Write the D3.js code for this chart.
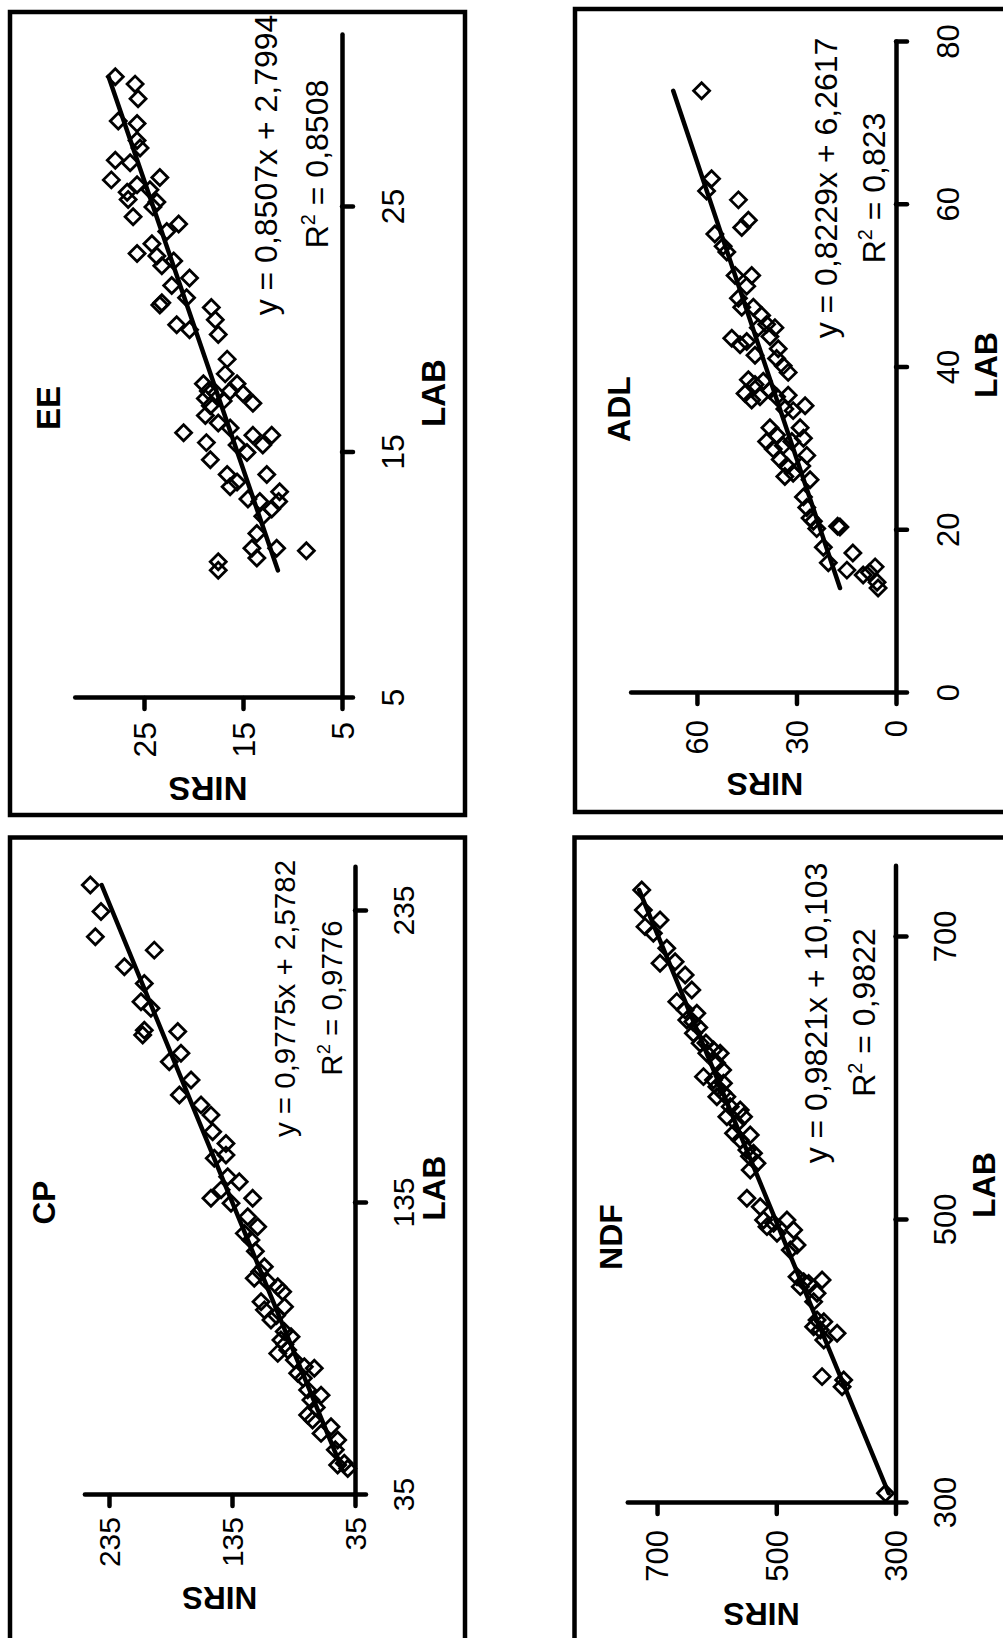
<!DOCTYPE html>
<html lang="en">
<head>
<meta charset="UTF-8">
<title>NIRS vs LAB calibration</title>
<script src="https://cdnjs.cloudflare.com/ajax/libs/d3/7.8.5/d3.min.js"></script>
<style>
  body { margin: 0; background: #fff; }
  svg { display: block; font-family: "Liberation Sans", Arial, sans-serif; }
</style>
</head>
<body>
<svg id="chart" width="1003" height="1638"></svg>
<script>
// ---- data (LAB reference value, NIRS prediction) ----
const eeLab  = [30.3, 30.0, 29.4, 28.5, 28.4, 27.7, 27.4, 26.9, 26.8, 26.1, 26.2, 25.9, 25.6, 25.7, 25.3, 24.6, 25.2, 25.0, 24.3, 24.0,
                23.1, 23.5, 23.0, 22.6, 22.8, 22.1, 21.8, 21.1, 21.0, 21.3, 20.9, 20.4, 20.2, 20.0, 19.8, 18.8, 18.2, 17.8, 17.5, 17.2,
                17.4, 17.5, 17.8, 17.4, 17.0, 17.1, 16.9, 16.5, 15.8, 16.2, 16.0, 15.4, 14.7, 15.3, 15.0, 15.7, 15.7, 15.3, 14.1, 13.6,
                13.8, 14.1, 13.1, 13.0, 12.7, 13.0, 13.4, 12.4, 11.7, 11.1, 10.7, 11.1, 11.0, 10.55, 10.2];
const eeNirs = [27.9, 25.9, 25.6, 27.6, 25.7, 25.7, 25.4, 27.9, 26.4, 28.3, 23.4, 25.7, 26.7, 24.4, 26.6, 26.1, 23.7, 24.1, 21.5, 22.7,
                25.7, 24.2, 23.7, 23.2, 22.0, 20.4, 22.2, 23.2, 23.4, 20.7, 18.2, 17.8, 21.7, 20.4, 17.5, 16.6, 16.8, 19.0, 18.5, 18.8,
                17.7, 16.3, 15.6, 15.0, 14.0, 17.0, 18.3, 18.8, 21.0, 17.5, 16.3, 18.7, 18.3, 15.6, 14.6, 14.0, 12.1, 13.0, 16.6, 16.3,
                15.6, 12.6, 14.5, 13.3, 12.1, 11.4, 11.3, 13.0, 13.6, 14.1, 13.6, 11.6, 8.6, 17.5, 17.5];

const cpLab  = [243.9, 234.8, 226.2, 221.6, 215.9, 210.2, 203.9, 201.7, 194.2, 192.5, 193.7, 183.4, 186.3, 177.1, 172.0, 168.6, 165.1,
                159.4, 155.4, 150.3, 151.4, 144.0, 142.3, 136.6, 136.6, 139.5, 134.9, 130.3, 126.9, 124.6, 122.3, 113.2, 109.2, 108.0,
                106.3, 104.6, 101.2, 98.4, 99.5, 94.9, 88.1, 89.2, 83.5, 84.7, 81.2, 78.9, 78.4, 76.7, 71.0, 69.2, 67.5, 62.4, 60.7,
                56.1, 58.4, 53.8, 45.9, 45.3, 44.1, 118.5, 111.5, 96.5, 91.0, 86.5, 75.0, 65.0, 50.5];
const cpNirs = [250.2, 241.5, 246.1, 198.2, 222.5, 206.3, 209.0, 200.9, 206.3, 207.6, 179.1, 186.0, 176.5, 168.3, 177.8, 160.2, 152.1,
                150.7, 139.9, 149.4, 139.9, 138.5, 129.1, 118.2, 152.1, 143.9, 135.8, 122.2, 114.1, 125.0, 119.6, 108.7, 116.9, 106.0,
                97.8, 93.8, 111.4, 108.7, 92.3, 103.3, 95.2, 87.0, 97.8, 89.7, 84.3, 76.2, 68.1, 81.6, 73.5, 62.6, 70.8, 73.5, 69.5,
                62.6, 54.5, 49.1, 43.7, 49.1, 40.9, 116.0, 112.5, 98.8, 92.5, 92.0, 77.0, 66.5, 51.0];

const adlLab  = [74.0, 63.2, 61.7, 60.6, 57.2, 58.1, 56.4, 54.9, 54.2, 51.3, 51.3, 50.0, 48.5, 47.4, 47.4, 46.4, 45.3, 44.9, 43.6, 42.8,
                 43.2, 44.9, 43.8, 42.3, 41.5, 41.1, 40.2, 38.5, 37.9, 38.3, 39.4, 36.8, 36.0, 36.4, 37.2, 36.4, 36.6, 34.9, 34.7, 35.3,
                 32.6, 31.7, 30.9, 30.0, 30.4, 30.9, 32.6, 31.3, 28.7, 27.9, 26.6, 27.0, 27.9, 29.2, 26.2, 24.1, 22.8, 21.5, 21.1, 20.2,
                 20.4, 20.5, 17.9, 16.0, 17.2, 15.1, 14.5, 15.5, 13.6, 12.9, 14.8];
const adlNirs = [58.6, 55.6, 57.1, 47.5, 46.5, 44.5, 54.6, 52.1, 51.0, 48.5, 43.5, 45.0, 47.5, 46.5, 43.0, 40.5, 39.0, 41.5, 49.5, 47.0,
                 45.0, 36.5, 38.0, 35.5, 42.5, 36.0, 34.0, 44.5, 42.5, 40.0, 32.5, 45.5, 43.5, 41.0, 38.0, 36.0, 32.5, 33.5, 31.0, 27.4,
                 38.0, 36.0, 39.0, 37.0, 34.0, 31.4, 28.9, 27.9, 34.9, 32.9, 33.5, 31.0, 28.4, 26.9, 25.9, 27.9, 26.9, 25.9, 24.9, 23.9,
                 16.9, 17.6, 21.9, 20.4, 13.0, 14.8, 9.9, 6.3, 5.7, 5.4, 8.0];

const ndfLab  = [733.2, 719.1, 712.0, 707.3, 702.6, 692.0, 681.4, 682.5, 673.1, 662.5, 654.3, 648.4, 646.1, 641.3, 631.9, 624.9, 620.1,
                 617.8, 617.8, 601.3, 598.9, 594.2, 596.6, 587.1, 587.1, 580.1, 577.7, 573.0, 573.0, 561.3, 556.6, 560.1, 549.5, 547.2,
                 540.1, 535.3, 515.3, 509.4, 500.0, 497.6, 500.0, 492.9, 490.6, 495.3, 482.3, 478.8, 459.9, 456.4, 455.2, 457.6, 452.9,
                 448.2, 442.3, 429.3, 428.1, 424.6, 422.3, 419.9, 415.2, 389.3, 386.9, 382.2, 306.9,
                 640.0, 636.0, 611.0, 606.0, 590.0, 568.0, 545.0, 625.0];
const ndfNirs = [725.7, 723.0, 695.0, 720.2, 706.2, 683.7, 695.0, 669.7, 652.9, 641.7, 666.9, 652.9, 633.3, 650.1, 639.0, 627.7, 605.3,
                 594.1, 616.5, 622.1, 605.3, 599.7, 588.6, 582.9, 599.7, 577.3, 560.5, 554.9, 582.9, 571.7, 560.5, 543.7, 549.3, 538.2,
                 532.4, 543.7, 549.3, 526.9, 521.3, 504.5, 482.1, 470.9, 498.8, 515.6, 465.2, 476.5, 465.2, 454.1, 445.7, 423.2, 459.7,
                 431.6, 437.3, 431.6, 420.3, 437.3, 426.1, 398.0, 420.3, 423.2, 386.9, 389.6, 316.8,
                 640.0, 630.0, 600.0, 590.0, 590.0, 566.0, 545.0, 618.0];

// axis domains and tick values
const eeDomain = [5, 32],     eeNirsDomain = [5, 32],    eeTicks = [5, 15, 25];
const cpDomain = [35, 250],   cpNirsDomain = [35, 255],  cpTicks = [35, 135, 235];
const adlDomain = [0, 80],    adlNirsDomain = [0, 80],   adlLabTicks = [0, 20, 40, 60, 80], adlNirsTicks = [0, 30, 60];
const ndfDomain = [300, 750], ndfNirsDomain = [300, 750], ndfTicks = [300, 500, 700];

// trendlines: slope, intercept, R²
const titles = ["EE", "CP", "ADL", "NDF"];
const slopes = [0.8507, 0.9775, 0.8229, 0.9821];
const intercepts = [2.7994, 2.5782, 6.2617, 10.103];
const r2 = [0.8508, 0.9776, 0.823, 0.9822];

// ---- layout (local frame is the unrotated chart; it is turned -90° on the page) ----
const W = 803, H = 455;
const panels = [
  { lab: eeLab, nirs: eeNirs, dom: eeDomain, ndom: eeNirsDomain, xt: eeTicks, yt: eeTicks,
    left: 10, bottom: 815, xr: [117, 780], yr: [332, 64.7], tick: 32, eqf: 32, tf: 33,
    labOff: 62, nirsGap: 24, title: [407, 50], nirsT: [38, 198], labT: [422, 435], eq: [650, 267], r2: [651, 318] },
  { lab: cpLab, nirs: cpNirs, dom: cpDomain, ndom: cpNirsDomain, xt: cpTicks, yt: cpTicks,
    left: 10, bottom: 1640.5, xr: [145.5, 773.3], yr: [345, 74.4], tick: 30, eqf: 29.5, tf: 31.5,
    labOff: 59, nirsGap: 22, title: [438, 45], nirsT: [54, 209.5], labT: [452.5, 435], eq: [642, 285], r2: [642.5, 331.7] },
  { lab: adlLab, nirs: adlNirs, dom: adlDomain, ndom: adlNirsDomain, xt: adlLabTicks, yt: adlNirsTicks,
    left: 575, bottom: 812, xr: [119, 770], yr: [321, 55.6], tick: 31, eqf: 32, tf: 32,
    labOff: 62.5, nirsGap: 27, title: [403, 55], nirsT: [39, 190], labT: [447, 422], eq: [624, 262], r2: [624, 310] },
  { lab: ndfLab, nirs: ndfNirs, dom: ndfDomain, ndom: ndfNirsDomain, xt: ndfTicks, yt: ndfTicks,
    left: 574.5, bottom: 1640.5, xr: [137.5, 774.3], yr: [321, 52.75], tick: 31, eqf: 32, tf: 32,
    labOff: 60, nirsGap: 27, title: [403.5, 47], nirsT: [37.5, 187], labT: [455.5, 420.5], eq: [627.5, 252], r2: [628, 300.5] }
];

const svg = d3.select("#chart");
const comma = v => String(v).replace(".", ",");
const diamond = r => `M0,${-r}L${r},0L0,${r}L${-r},0Z`;

panels.forEach((p, i) => {
  const g = svg.append("g").attr("transform", `translate(${p.left},${p.bottom}) rotate(-90)`);

  g.append("rect").attr("width", W).attr("height", H)
    .attr("fill", "none").attr("stroke", "#000").attr("stroke-width", 4.5);

  const x = d3.scaleLinear().domain(p.dom).range(p.xr);
  const y = d3.scaleLinear().domain(p.ndom).range(p.yr);

  // LAB axis (bottom of the unrotated chart)
  const gx = g.append("g").attr("transform", `translate(0,${y(p.ndom[0])})`)
    .call(d3.axisBottom(x).tickValues(p.xt).tickSize(11).tickSizeOuter(0).tickFormat(d3.format("d")));
  gx.selectAll("text").attr("y", p.labOff).attr("dy", null).style("font-size", p.tick + "px");

  // NIRS axis (left)
  const gy = g.append("g").attr("transform", `translate(${x(p.dom[0])},0)`)
    .call(d3.axisLeft(y).tickValues(p.yt).tickSize(11).tickSizeOuter(0).tickFormat(d3.format("d")));
  gy.selectAll("text").attr("x", -p.nirsGap).attr("dy", "0.35em").style("font-size", p.tick + "px");

  [gx, gy].forEach(a => {
    a.attr("font-family", null).attr("font-size", null);
    a.selectAll("text").attr("fill", "#000");
    a.select(".domain").attr("stroke", "#000").attr("stroke-width", 4.5).attr("stroke-linecap", "round");
    a.selectAll(".tick line").attr("stroke", "#000").attr("stroke-width", 4.5).attr("stroke-linecap", "round");
  });

  // points
  g.append("g").selectAll("path").data(p.lab.map((v, k) => [v, p.nirs[k]])).join("path")
    .attr("transform", d => `translate(${x(d[0])},${y(d[1])})`)
    .attr("d", diamond(8))
    .attr("fill", "none").attr("stroke", "#000").attr("stroke-width", 2.8);

  // linear trendline over the LAB range of the data
  const ext = d3.extent(p.lab);
  g.append("path")
    .datum(ext.map(v => [v, slopes[i] * v + intercepts[i]]))
    .attr("d", d3.line().x(d => x(d[0])).y(d => y(d[1])))
    .attr("fill", "none").attr("stroke", "#000").attr("stroke-width", 4.5).attr("stroke-linecap", "round");

  // equation and R²
  g.append("text").attr("x", p.eq[0]).attr("y", p.eq[1]).attr("text-anchor", "middle")
    .style("font-size", p.eqf + "px")
    .text(`y = ${comma(slopes[i])}x + ${comma(intercepts[i])}`);
  const rt = g.append("text").attr("x", p.r2[0]).attr("y", p.r2[1]).attr("text-anchor", "middle")
    .style("font-size", p.eqf + "px");
  rt.append("tspan").text("R");
  rt.append("tspan").attr("dy", -p.eqf * 0.4).style("font-size", (p.eqf * 0.62) + "px").text("2");
  rt.append("tspan").attr("dy", p.eqf * 0.4).text(` = ${comma(r2[i])}`);

  // titles
  g.append("text").attr("x", p.title[0]).attr("y", p.title[1]).attr("text-anchor", "middle")
    .style("font-size", p.tf + "px").style("font-weight", "bold").text(titles[i]);
  g.append("text").attr("transform", `translate(${p.nirsT[0]},${p.nirsT[1]}) rotate(-90)`)
    .attr("text-anchor", "middle").style("font-size", p.tf + "px").style("font-weight", "bold").text("NIRS");
  g.append("text").attr("x", p.labT[0]).attr("y", p.labT[1]).attr("text-anchor", "middle")
    .style("font-size", p.tf + "px").style("font-weight", "bold").text("LAB");
});
</script>
</body>
</html>
